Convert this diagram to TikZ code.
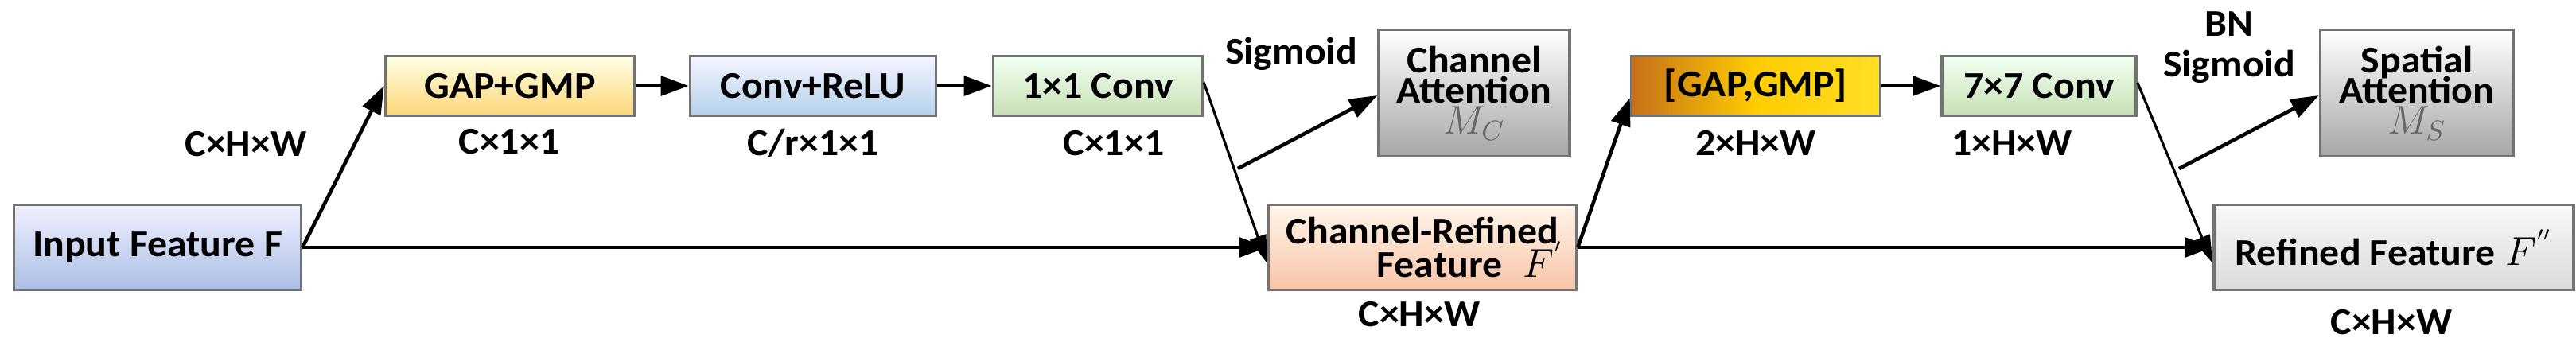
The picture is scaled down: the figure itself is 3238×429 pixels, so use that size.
\documentclass[tikz,border=0pt]{standalone}
\usepackage{fontspec}
\setmainfont{Carlito}[FakeStretch=1.05]
\usetikzlibrary{arrows.meta}
\definecolor{inb}{RGB}{170,190,228}
\definecolor{rlb}{RGB}{180,208,236}
\definecolor{grb}{RGB}{198,224,180}
\definecolor{ylb}{RGB}{252,214,120}
\definecolor{crb}{RGB}{248,196,168}
\begin{document}
\begin{tikzpicture}[x=0.01cm,y=-0.01cm,
  every node/.style={font=\fontsize{13.5}{14}\selectfont\bfseries},
  box/.style={draw=black!55,line width=1pt,inner sep=0pt,align=center},
  lbl/.style={inner sep=0pt},
  arr/.style={-{Triangle[length=10pt,width=7pt]},line width=1.3pt},
  thin/.style={-{Triangle[length=10pt,width=6pt]},line width=0.9pt}]
\useasboundingbox (0,0) rectangle (3238,429);
\node[box,top color=blue!6,bottom color=inb,minimum width=361*0.01cm,minimum height=107*0.01cm] (in) at (198,311) {Input Feature F};
\node[box,top color=yellow!10,bottom color=ylb,minimum width=313*0.01cm,minimum height=75*0.01cm] (gap) at (641,108) {GAP+GMP};
\node[box,top color=blue!4,bottom color=rlb,minimum width=309*0.01cm,minimum height=75*0.01cm] (relu) at (1022,108) {Conv+ReLU};
\node[box,top color=green!5,bottom color=grb,minimum width=263*0.01cm,minimum height=75*0.01cm] (c11) at (1380,108) {1×1 Conv};
\node[box,top color=white,bottom color=black!35,minimum width=240*0.01cm,minimum height=159*0.01cm] (ca) at (1853,117) {Channel\\[-3pt]Attention\\[-3pt]\textcolor{black!60}{\normalfont\Large$M_C$}};
\node[box,top color=orange!8,bottom color=crb,minimum width=387*0.01cm,minimum height=107*0.01cm] (cr) at (1788,311) {Channel-Refined\\[-2pt]\hspace*{1.2cm}Feature\;\;{\normalfont\Large$F^{'}$}};
\node[box,left color=orange!75!black!90,right color=yellow!70!orange!85,middle color=yellow!60!orange,minimum width=313*0.01cm,minimum height=75*0.01cm] (gm) at (2207,108) {[GAP,GMP]};
\node[box,top color=green!5,bottom color=grb,minimum width=244*0.01cm,minimum height=75*0.01cm] (c77) at (2563,108) {7×7 Conv};
\node[box,top color=white,bottom color=black!35,minimum width=243*0.01cm,minimum height=159*0.01cm] (sa) at (3038,117) {Spatial\\[-3pt]Attention\\[-3pt]\textcolor{black!60}{\normalfont\Large$M_S$}};
\node[box,top color=black!3,bottom color=black!14,minimum width=452*0.01cm,minimum height=107*0.01cm] (rf) at (3009,311) {Refined Feature\;{\normalfont\Large$F^{''}$}};
% labels
\node[lbl] (l1) at (309,181) {C×H×W};
\node[lbl] (l2) at (640,178) {C×1×1};
\node[lbl] (l3) at (1022,180) {C/r×1×1};
\node[lbl] (l4) at (1400,180) {C×1×1};
\node[lbl] (l5) at (1623,68) {Sigmoid};
\node[lbl] (l6) at (1784,395) {C×H×W};
\node[lbl] (l7) at (2207,180) {2×H×W};
\node[lbl] (l8) at (2529,180) {1×H×W};
\node[lbl] (l9) at (2802,30) {BN};
\node[lbl] (l10) at (2802,84) {Sigmoid};
\node[lbl] (l11) at (3006,405) {C×H×W};
% connectors
\draw[arr] (in.east) -- (gap.west);
\draw[arr] (gap) -- (relu);
\draw[arr] (relu) -- (c11);
\draw[arr] (in) -- (cr);
\coordinate (b1) at (1556,212);
\draw[thin] (c11.north east) ++(0,35) -- ([yshift=-0.2cm]cr.west);
\draw[arr] (b1) -- ([yshift=-0.03cm]ca.west);
\draw[arr] (cr.east) -- ([yshift=-0.15cm]gm.west);
\draw[arr] (gm) -- (c77);
\draw[arr] (cr) -- (rf);
\coordinate (b2) at (2739,212);
\draw[thin] (c77.north east) ++(0,35) -- ([yshift=-0.2cm]rf.west);
\draw[arr] (b2) -- ([yshift=-0.03cm]sa.west);
\end{tikzpicture}
\end{document}
